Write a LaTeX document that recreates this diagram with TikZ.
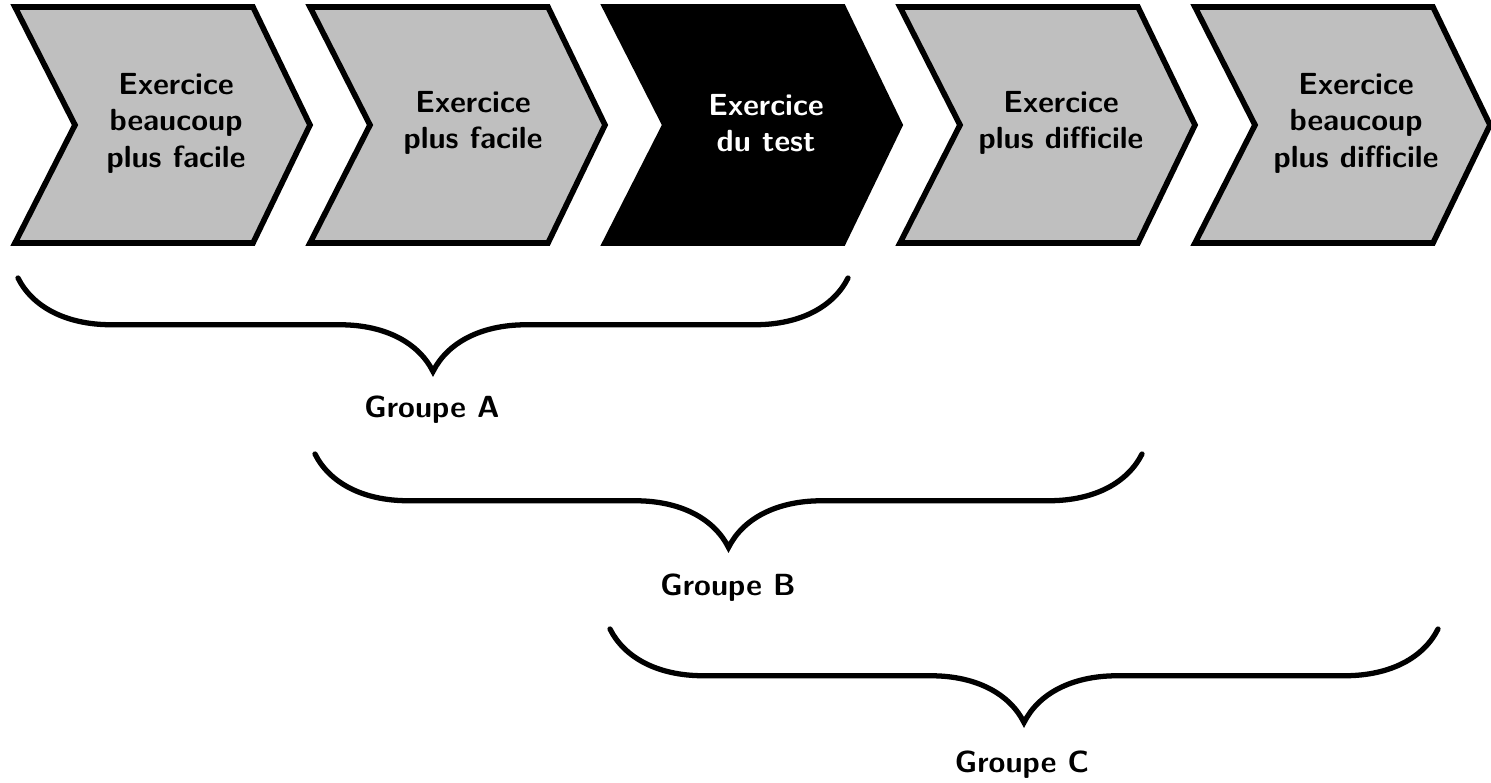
\documentclass[tikz,border=0pt]{standalone}
\usetikzlibrary{decorations.pathreplacing}
\begin{document}
\begin{tikzpicture}[x=0.02cm,y=-0.02cm,
  chev/.style={line width=3.2pt, line join=miter, draw=black, fill=black!25},
  chevdark/.style={chev, fill=black},
  lbl/.style={font=\sffamily\bfseries\fontsize{17.4}{20.8}\selectfont, align=center, inner sep=0pt},
  brc/.style={decorate, decoration={brace, amplitude=1.87cm}, line width=3pt, line cap=round},
]
\useasboundingbox (0,0) rectangle (1491,782);
\foreach \L/\s in {15/chev,310/chev,605/chevdark,900/chev,1195/chev} {
  \path[\s] (\L,7) -- ++(238,0) -- ++(57,118) -- ++(-57,118) -- ++(-238,0) -- ++(60,-118) -- cycle;
}
\node[lbl] (t1) at (176,123) {Exercice\\beaucoup\\plus facile};
\node[lbl] (t2) at (473,123) {Exercice\\plus facile};
\node[lbl, text=white] (t3) at (766,123) {Exercice\\du test};
\node[lbl] (t4) at (1061,123) {Exercice\\plus difficile};
\node[lbl] (t5) at (1356,123) {Exercice\\beaucoup\\plus difficile};

\coordinate (a1) at (18,278);
\coordinate (a2) at (848,278);
\coordinate (b1) at (315,454);
\coordinate (b2) at (1142,454);
\coordinate (c1) at (610,629);
\coordinate (c2) at (1438,629);
\draw[brc] (a2) -- (a1);
\draw[brc] (b2) -- (b1);
\draw[brc] (c2) -- (c1);
\node[lbl] (ga) at (432,410) {Groupe A};
\node[lbl] (gb) at (728,588) {Groupe B};
\node[lbl] (gc) at (1022,765) {Groupe C};
\end{tikzpicture}
\end{document}
